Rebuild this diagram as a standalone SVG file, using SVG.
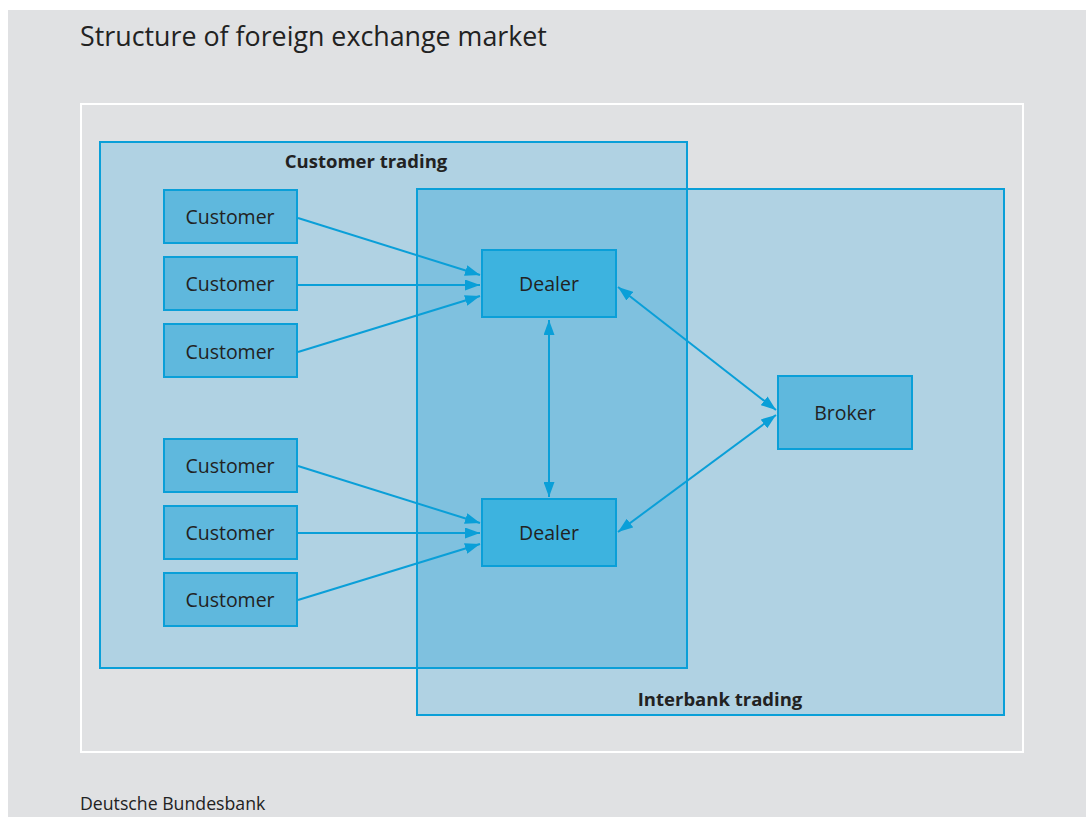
<svg xmlns="http://www.w3.org/2000/svg" width="1086" height="817" viewBox="0 0 1086 817">
<defs>
<style>
.txt{font-family:"Open Sans","Noto Sans",sans-serif;fill:#222;}
.node{stroke:#0a9fd8;stroke-width:2;}
.cust{fill:#5fb8dd;}
.deal{fill:#3db3df;}
.lbl{font-size:19.5px;text-anchor:middle;}
.grp{font-size:18.5px;font-weight:bold;text-anchor:middle;}
.conn{stroke:#0a9fd8;stroke-width:2;fill:none;}
</style>
<marker id="ah" viewBox="0 0 15 11" refX="15" refY="5.5" markerWidth="15" markerHeight="11" markerUnits="userSpaceOnUse" orient="auto-start-reverse">
<path d="M0,0 L15,5.5 L0,11 Z" fill="#0a9fd8"/>
</marker>
</defs>
<rect x="0" y="0" width="1086" height="817" fill="#ffffff"/>
<rect x="8" y="10" width="1078" height="807" fill="#e0e1e3"/>
<text class="txt" x="80" y="46" font-size="26.8">Structure of foreign exchange market</text>
<rect x="81" y="104" width="942" height="648" fill="none" stroke="#ffffff" stroke-width="2"/>
<g id="customer-trading">
<rect x="100" y="142" width="587" height="526" fill="#b0d2e3"/>
</g>
<g id="interbank-trading">
<rect x="417" y="189" width="587" height="526" fill="#b0d2e3"/>
<rect x="417" y="189" width="270" height="479" fill="#7fc1df"/>
<rect x="100" y="142" width="587" height="526" fill="none" stroke="#0a9fd8" stroke-width="2"/>
<rect x="417" y="189" width="587" height="526" fill="none" stroke="#0a9fd8" stroke-width="2"/>
<text class="txt grp" x="366" y="168">Customer trading</text>
<text class="txt grp" x="720" y="706">Interbank trading</text>
</g>
<g id="connectors">
<line class="conn" x1="298" y1="218" x2="480" y2="275" marker-end="url(#ah)"/>
<line class="conn" x1="298" y1="285" x2="480" y2="285" marker-end="url(#ah)"/>
<line class="conn" x1="298" y1="352" x2="480" y2="296" marker-end="url(#ah)"/>
<line class="conn" x1="298" y1="466" x2="480" y2="523" marker-end="url(#ah)"/>
<line class="conn" x1="298" y1="533" x2="480" y2="533" marker-end="url(#ah)"/>
<line class="conn" x1="298" y1="600" x2="480" y2="544" marker-end="url(#ah)"/>
<line class="conn" x1="549" y1="320" x2="549" y2="497" marker-start="url(#ah)" marker-end="url(#ah)"/>
<line class="conn" x1="618" y1="287" x2="776" y2="410" marker-start="url(#ah)" marker-end="url(#ah)"/>
<line class="conn" x1="618" y1="532" x2="776" y2="415" marker-start="url(#ah)" marker-end="url(#ah)"/>
</g>
<g id="customer1"><rect class="node cust" x="164" y="190" width="133" height="53"/><text class="txt lbl" x="230" y="224">Customer</text></g>
<g id="customer2"><rect class="node cust" x="164" y="257" width="133" height="53"/><text class="txt lbl" x="230" y="291">Customer</text></g>
<g id="customer3"><rect class="node cust" x="164" y="324" width="133" height="53"/><text class="txt lbl" x="230" y="359">Customer</text></g>
<g id="customer4"><rect class="node cust" x="164" y="439" width="133" height="53"/><text class="txt lbl" x="230" y="473">Customer</text></g>
<g id="customer5"><rect class="node cust" x="164" y="506" width="133" height="53"/><text class="txt lbl" x="230" y="540">Customer</text></g>
<g id="customer6"><rect class="node cust" x="164" y="573" width="133" height="53"/><text class="txt lbl" x="230" y="607">Customer</text></g>
<g id="dealer1"><rect class="node deal" x="482" y="250" width="134" height="67"/><text class="txt lbl" x="549" y="291">Dealer</text></g>
<g id="dealer2"><rect class="node deal" x="482" y="499" width="134" height="67"/><text class="txt lbl" x="549" y="540">Dealer</text></g>
<g id="broker"><rect class="node cust" x="778" y="376" width="134" height="73"/><text class="txt lbl" x="845" y="420">Broker</text></g>
<text class="txt" x="80" y="810" font-size="17.7">Deutsche Bundesbank</text>
</svg>
